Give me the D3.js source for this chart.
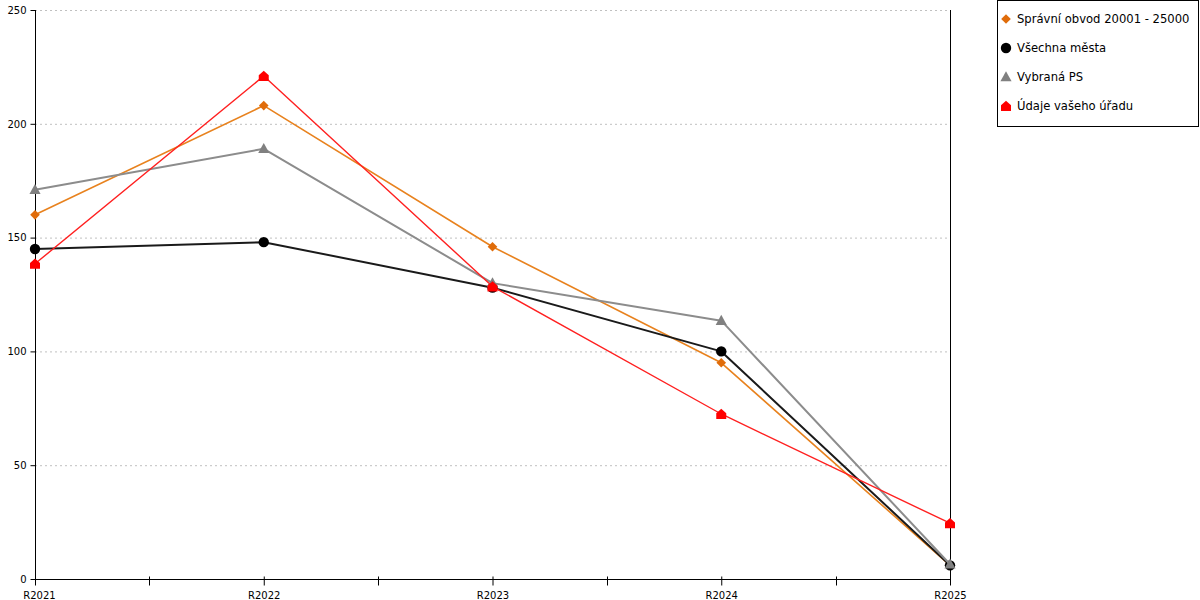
<!DOCTYPE html>
<html><head><meta charset="utf-8">
<script src="https://cdn.jsdelivr.net/npm/d3@7"></script>
<style>body{margin:0;background:#fff;} svg{display:block;font-family:"DejaVu Sans",Verdana,sans-serif;}</style>
</head><body>
<svg id="c" width="1200" height="600"></svg>
<script>
const categories = ["R2021","R2022","R2023","R2024","R2025"];
const seriesNames = ["Správní obvod 20001 - 25000","Všechna města","Vybraná PS","Údaje vašeho úřadu"];
const spravniObvod = [160, 208, 146, 95, 6];
const vsechnaMesta = [145, 148, 128, 100, 6];
const vybranaPS = [171, 189, 130, 113.5, 6.5];
const udajeUradu = [138.5, 221, 128.5, 72.5, 24.5];
const yTicks = [0, 50, 100, 150, 200, 250];

const series = [
  {name: seriesNames[0], values: spravniObvod, line: "#e8821e", fill: "#e06c0a", width: 1.6, shape: "diamond"},
  {name: seriesNames[1], values: vsechnaMesta, line: "#1a1a1a", fill: "#000000", width: 2, shape: "circle"},
  {name: seriesNames[2], values: vybranaPS, line: "#8c8c8c", fill: "#808080", width: 2, shape: "triangle"},
  {name: seriesNames[3], values: udajeUradu, line: "#ff2020", fill: "#ff0000", width: 1.4, shape: "house"}
];

const svg = d3.select("#c");
const L = 35, R = 950, T = 10, B = 579;
const x = d3.scalePoint().domain(categories).range([L, R]);
const y = d3.scaleLinear().domain([0, 250]).range([B, T]);

// grid
svg.append("g").selectAll("line").data(yTicks.filter(d => d > 0)).join("line")
  .attr("x1", L).attr("x2", R).attr("y1", d => y(d) + 0.5).attr("y2", d => y(d) + 0.5)
  .attr("stroke", "#c0c0c0").attr("stroke-width", 1).attr("stroke-dasharray", "2,3");

// y axis
const yAxis = svg.append("g").attr("transform", `translate(${L + 0.5},0)`)
  .call(d3.axisLeft(y).tickValues(yTicks).tickSize(5).tickPadding(4));
yAxis.select(".domain").attr("stroke", "#000").attr("d", `M0,${T}V${B}`);
yAxis.selectAll(".tick line").attr("stroke", "#000");
yAxis.selectAll("text").attr("font-size", 10).attr("fill", "#000").attr("font-family", "DejaVu Sans");

// right axis line
svg.append("line").attr("x1", R + 0.5).attr("x2", R + 0.5).attr("y1", T).attr("y2", B)
  .attr("stroke", "#000").attr("stroke-width", 1);

// x axis
const xAxis = svg.append("g").attr("transform", `translate(0,${B + 0.5})`)
  .call(d3.axisBottom(x).tickSize(6).tickPadding(6));
xAxis.select(".domain").attr("stroke", "#000").attr("d", `M${L},0H${R + 1}`);
xAxis.selectAll(".tick line").attr("stroke", "#000").attr("y1", -3).attr("y2", 6);
xAxis.selectAll("text").attr("font-size", 10).attr("fill", "#000").attr("font-family", "DejaVu Sans")
  .attr("dx", (d, i) => i === 0 ? 4 : 0);
// minor ticks between categories
const mids = categories.slice(1).map((c, i) => (x(categories[i]) + x(c)) / 2);
xAxis.selectAll(".minor").data(mids).join("line").attr("class", "minor")
  .attr("x1", d => Math.round(d) + 0.5).attr("x2", d => Math.round(d) + 0.5)
  .attr("y1", -3).attr("y2", 6).attr("stroke", "#000");

function shapePath(shape, s) {
  switch (shape) {
    case "diamond": return `M0,${-s}L${s},0L0,${s}L${-s},0Z`;
    case "circle": return d3.symbol(d3.symbolCircle, Math.PI * s * s)();
    case "triangle": return `M0,${-s * 1.1}L${s * 1.05},${s * 0.8}L${-s * 1.05},${s * 0.8}Z`;
    case "house": return `M${-s},${s}L${s},${s}L${s},${-s * 0.15}L0,${-s * 1.05}L${-s},${-s * 0.15}Z`;
  }
}
const markerSize = {diamond: 4.8, circle: 5.2, triangle: 5.3, house: 5};

const line = d3.line().x((d, i) => x(categories[i])).y(d => y(d));

series.forEach(s => {
  const g = svg.append("g");
  g.append("path").datum(s.values).attr("d", line).attr("fill", "none")
    .attr("stroke", s.line).attr("stroke-width", s.width).attr("stroke-linejoin", "round");
  g.selectAll("path.m").data(s.values).join("path").attr("class", "m")
    .attr("transform", (d, i) => `translate(${x(categories[i])},${y(d)})`)
    .attr("d", shapePath(s.shape, markerSize[s.shape])).attr("fill", s.fill);
});

// legend
const lg = svg.append("g");
lg.append("rect").attr("x", 997.5).attr("y", 0.5).attr("width", 201).attr("height", 126)
  .attr("fill", "#fff").attr("stroke", "#000").attr("stroke-width", 1);
series.forEach((s, i) => {
  const cy = 19 + i * 29;
  lg.append("path").attr("transform", `translate(1006,${cy})`)
    .attr("d", shapePath(s.shape, markerSize[s.shape])).attr("fill", s.fill);
  lg.append("text").attr("x", 1017).attr("y", cy + 4).attr("font-size", 11.6).attr("fill", "#000")
    .text(s.name);
});
</script>
</body></html>
